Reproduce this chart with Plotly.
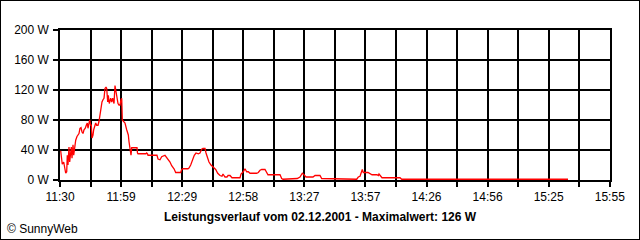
import pandas as pd
import plotly.graph_objects as go

day = "2001-12-02"
times = [
    "11:30:20", "11:30:38", "11:31:06", "11:31:47", "11:32:16", "11:32:45", "11:33:14", "11:33:31",
    "11:33:51", "11:34:20", "11:34:40", "11:34:58", "11:35:27", "11:35:47", "11:36:16", "11:36:36",
    "11:37:05", "11:37:34", "11:38:11", "11:38:40", "11:39:09", "11:39:38", "11:40:07", "11:40:36",
    "11:41:05", "11:41:34", "11:42:11", "11:42:40", "11:43:09", "11:43:29", "11:43:58", "11:44:19",
    "11:44:48", "11:45:05", "11:45:25", "11:45:54", "11:46:14", "11:46:43", "11:47:12", "11:47:41",
    "11:48:19", "11:48:47", "11:49:16", "11:49:45", "11:50:14", "11:50:43", "11:51:12", "11:51:41",
    "11:52:10", "11:52:30", "11:52:59", "11:53:16", "11:53:45", "11:54:26", "11:54:55", "11:55:24",
    "11:56:01", "11:56:30", "11:56:59", "11:57:28", "11:57:57", "11:58:26", "11:58:55", "11:59:23",
    "11:59:44", "12:00:01", "12:01:19", "12:02:08", "12:02:55", "12:03:15", "12:03:44", "12:04:13",
    "12:04:33", "12:05:10", "12:07:06", "12:07:20", "12:07:35", "12:11:26", "12:11:46", "12:12:10",
    "12:12:24", "12:16:44", "12:17:13", "12:18:11", "12:19:00", "12:20:35", "12:21:25", "12:22:02",
    "12:23:00", "12:23:49", "12:24:56", "12:25:45", "12:28:09", "12:28:38", "12:29:16", "12:31:40",
    "12:32:09", "12:32:58", "12:33:56", "12:34:42", "12:35:32", "12:36:38", "12:37:27", "12:38:16",
    "12:38:54", "12:39:52", "12:40:21", "12:40:58", "12:41:47", "12:42:45", "12:43:52", "12:45:01",
    "12:45:59", "12:47:05", "12:48:03", "12:48:32", "12:49:30", "12:50:28", "12:50:57", "12:51:55",
    "12:52:52", "12:56:44", "12:57:12", "12:58:19", "12:59:08", "12:59:57", "13:00:44", "13:01:33",
    "13:04:46", "13:05:33", "13:06:22", "13:07:11", "13:08:46", "13:09:35", "13:10:13", "13:16:00",
    "13:16:49", "13:17:27", "13:24:11", "13:24:20", "13:25:38", "13:26:45", "13:27:34", "13:28:32",
    "13:31:54", "13:32:52", "13:34:19", "13:35:16", "13:36:05", "13:41:32", "13:43:19", "13:52:57",
    "13:53:44", "13:54:33", "13:55:39", "13:56:08", "13:58:24", "13:59:22", "14:00:20", "14:02:44",
    "14:03:22", "14:03:42", "14:04:11", "14:05:09", "14:13:49", "14:14:38", "14:37:55", "15:02:00",
    "15:21:16", "15:34:46",
]
watts = [
    39, 31, 21, 24, 18, 9, 11, 33,
    20, 44, 24, 38, 44, 29, 47, 33,
    47, 53, 58, 60, 62, 69, 70, 64,
    62, 67, 69, 73, 76, 69, 78, 80,
    73, 73, 56, 60, 67, 71, 76, 73,
    73, 78, 87, 96, 104, 107, 109, 122,
    124, 122, 104, 113, 102, 109, 104, 109,
    102, 126, 118, 107, 102, 100, 100, 107,
    109, 80, 76, 67, 60, 51, 44, 33,
    43, 43, 43, 36, 35, 35, 36, 35,
    33, 33, 28, 27, 31, 33, 30, 27,
    24, 19, 15, 10, 10, 14, 15, 15,
    16, 20, 27, 33, 36, 35, 36, 41,
    42, 42, 36, 31, 24, 20, 17, 14,
    9, 6, 5, 8, 4, 4, 6, 6,
    3, 3, 8, 11, 15, 11, 11, 9,
    9, 10, 13, 14, 14, 10, 7, 7,
    2, 1, 1, 2, 4, 9, 7, 4,
    4, 6, 6, 6, 2, 2, 1, 1,
    4, 5, 14, 10, 10, 8, 7, 7,
    6, 8, 6, 3, 3, 1, 1, 1,
    1, 1,
]
x_tick_labels = ["11:30", "11:59", "12:29", "12:58", "13:27", "13:57", "14:26", "14:56", "15:25", "15:55"]
y_tick_values = [0, 40, 80, 120, 160, 200]
y_tick_labels = ["0 W", "40 W", "80 W", "120 W", "160 W", "200 W"]
title_text = "Leistungsverlauf vom 02.12.2001 - Maximalwert: 126 W"
credit_text = "© SunnyWeb"

x = pd.to_datetime([f"{day} {t}" for t in times])
start = pd.Timestamp(f"{day} 11:30")
end = pd.Timestamp(f"{day} 15:55")
n_grid = 2 * (len(x_tick_labels) - 1)
step = (end - start) / n_grid
grid_vals = [start + i * step for i in range(n_grid + 1)]
grid_text = [x_tick_labels[i // 2] if i % 2 == 0 else "" for i in range(n_grid + 1)]

fig = go.Figure(go.Scatter(x=x, y=watts, mode="lines",
                           line=dict(color="#FF0000", width=1.3), hoverinfo="skip"))

font = dict(family="Arial, Liberation Sans, sans-serif", size=12, color="black")
fig.update_layout(
    width=640, height=240,
    margin=dict(l=60, r=30, t=30, b=60),
    paper_bgcolor="white", plot_bgcolor="white",
    showlegend=False, font=font,
)
fig.update_xaxes(
    range=[start, end], tickmode="array", tickvals=grid_vals, ticktext=grid_text,
    showgrid=True, gridcolor="black", gridwidth=1.5,
    showline=True, linecolor="black", linewidth=1.5, mirror=True,
    ticks="outside", ticklen=5, tickwidth=1.5, tickcolor="black",
    tickfont=font, zeroline=False,
)
fig.update_yaxes(
    range=[0, 200], tickmode="array", tickvals=y_tick_values, ticktext=y_tick_labels,
    showgrid=True, gridcolor="black", gridwidth=1.5,
    showline=True, linecolor="black", linewidth=1.5, mirror=True,
    ticks="outside", ticklen=5, tickwidth=1.5, tickcolor="black",
    tickfont=font, zeroline=False, ticklabelstandoff=2,
)
# outer frame of the whole image
fig.add_shape(type="rect", xref="paper", yref="paper",
              x0=-60.0 / 550, x1=580.0 / 550, y0=-60.0 / 150, y1=180.0 / 150,
              line=dict(color="black", width=2), fillcolor="rgba(0,0,0,0)", layer="above")
fig.add_annotation(text=f"<b>{title_text}</b>", xref="paper", yref="paper",
                   x=260.0 / 550, y=-36.5 / 150, xanchor="center", yanchor="middle",
                   showarrow=False, font=dict(family="Arial, Liberation Sans, sans-serif", size=12, color="black"))
fig.add_annotation(text=credit_text, xref="paper", yref="paper",
                   x=-55.0 / 550, y=-48.5 / 150, xanchor="left", yanchor="middle",
                   showarrow=False, font=dict(family="Arial, Liberation Sans, sans-serif", size=12, color="black"))

fig.write_html("out.html")
